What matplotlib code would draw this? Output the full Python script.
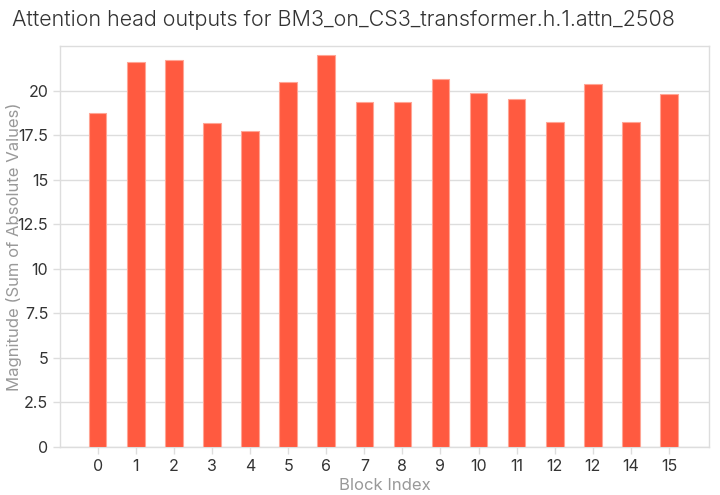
import numpy as np
import matplotlib
matplotlib.use("Agg")
import matplotlib.pyplot as plt

# data
block_index = list(range(16))
tick_labels = ["0", "1", "2", "3", "4", "5", "6", "7", "8", "9",
               "10", "11", "12", "12", "14", "15"]
magnitudes = [18.75, 21.63, 21.74, 18.2, 17.75, 20.49, 21.97, 19.36,
              19.36, 20.66, 19.89, 19.51, 18.24, 20.34, 18.24, 19.79]
y_ticks = [0, 2.5, 5, 7.5, 10, 12.5, 15, 17.5, 20]
y_tick_labels = ["0", "2.5", "5", "7.5", "10", "12.5", "15", "17.5", "20"]

plt.rcParams['font.family'] = ['Inter', 'DejaVu Sans']

fig = plt.figure(figsize=(7.2, 4.95), dpi=100)
ax = fig.add_axes([60 / 720, 1 - 447 / 495, 649 / 720, 401 / 495])

ax.bar(block_index, magnitudes, width=0.46, color="#ff5a40",
       edgecolor="#ffa595", linewidth=0.8, zorder=3)

ax.set_xlim(-0.99, 16.05)
ax.set_ylim(0, 22.5)
ax.set_xticks(block_index)
ax.set_xticklabels(tick_labels)
ax.set_yticks(y_ticks)
ax.set_yticklabels(y_tick_labels)

ax.grid(axis='y', color="#dddddd", linewidth=1, zorder=0)
for side in ['left', 'right', 'top', 'bottom']:
    ax.spines[side].set_color("#dddddd")
    ax.spines[side].set_linewidth(1)
ax.tick_params(axis='both', colors="#dddddd", labelcolor="#333333",
               labelsize=11.5, length=5, width=1)

ax.set_xlabel("Block Index", color="#999999", fontsize=12, va='center')
ax.xaxis.set_label_coords(0.5, (447 - 486) / 401)
ax.set_ylabel("Magnitude (Sum of Absolute Values)", color="#999999",
              fontsize=12, va='center')
ax.yaxis.set_label_coords((14 - 60) / 649, 0.5)

fig.text(12 / 720, 1 - 20 / 495,
         "Attention head outputs for BM3_on_CS3_transformer.h.1.attn_2508",
         fontsize=15.5, fontweight=300, color="#333333",
         ha='left', va='center')

fig.savefig("out.png", dpi=100)
